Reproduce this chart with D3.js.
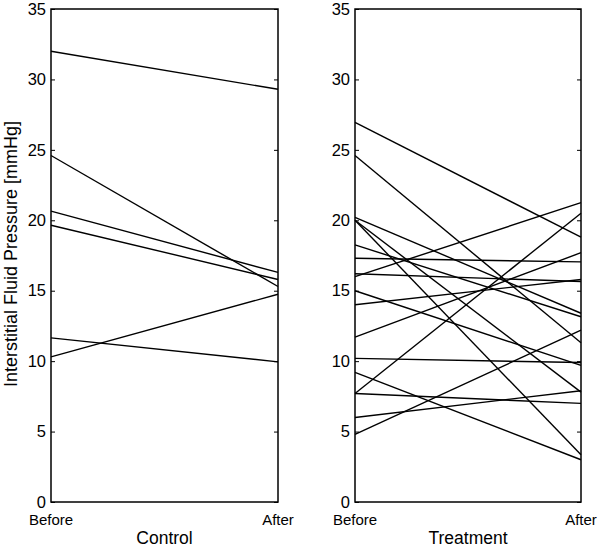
<!DOCTYPE html>
<html>
<head>
<meta charset="UTF-8">
<title>Interstitial Fluid Pressure</title>
<script src="https://d3js.org/d3.v7.min.js"></script>
<style>
  body { margin: 0; background: #fff; }
  svg { font-family: "Liberation Sans", Arial, sans-serif; }
</style>
</head>
<body>
<div id="chart"></div>
<script>
// data
const groups = ["Control", "Treatment"];
const xLabels = ["Before", "After"];
const yTicks = [0, 5, 10, 15, 20, 25, 30, 35];
const yLabel = "Interstitial Fluid Pressure [mmHg]";

const controlBefore = [32.0, 24.6, 20.65, 19.65, 11.65, 10.3];
const controlAfter  = [29.3, 15.3, 16.3, 15.8, 9.95, 14.75];

const treatmentBefore = [26.95, 24.6, 20.2, 20.0, 20.0, 18.25, 17.3, 16.2, 16.0, 15.0, 14.0, 11.7, 10.2, 9.2, 7.7, 7.7, 6.0, 4.8];
const treatmentAfter  = [18.8, 11.3, 13.4, 3.35, 7.8, 13.15, 17.05, 15.65, 21.25, 9.7, 15.8, 17.7, 9.9, 3.0, 7.0, 20.5, 7.9, 12.2];

const W = 600, H = 549;
const svg = d3.select("#chart").append("svg")
    .attr("width", W)
    .attr("height", H);

const y = d3.scaleLinear().domain([0, 35]).range([502, 9]);

// one panel per group
const panels = [
    { name: groups[0], x0: 51, x1: 278, before: controlBefore, after: controlAfter },
    { name: groups[1], x0: 355, x1: 581, before: treatmentBefore, after: treatmentAfter }
];

panels.forEach(p => {
    const x = d3.scalePoint().domain(xLabels).range([p.x0, p.x1]);
    const g = svg.append("g");

    // lines before -> after
    const pairs = p.before.map((b, i) => [b, p.after[i]]);
    g.selectAll(".pair")
        .data(pairs)
        .enter()
        .append("line")
        .attr("class", "pair")
        .attr("x1", x(xLabels[0]))
        .attr("x2", x(xLabels[1]))
        .attr("y1", d => y(d[0]))
        .attr("y2", d => y(d[1]))
        .attr("stroke", "#000")
        .attr("stroke-width", 1.4);

    // left axis, ticks inward
    const left = g.append("g")
        .attr("transform", `translate(${p.x0},0)`)
        .call(d3.axisLeft(y).tickValues(yTicks).tickSize(-4).tickPadding(5));
    left.select(".domain").remove();
    left.selectAll("text").attr("font-size", 16.5).attr("fill", "#000")
        .attr("font-family", "Liberation Sans, Arial, sans-serif");

    // right side inward ticks
    const right = g.append("g")
        .attr("transform", `translate(${p.x1},0)`)
        .call(d3.axisRight(y).tickValues(yTicks).tickSize(-4).tickFormat(""));
    right.select(".domain").remove();

    // frame
    g.append("rect")
        .attr("x", p.x0)
        .attr("y", y(35))
        .attr("width", p.x1 - p.x0)
        .attr("height", y(0) - y(35))
        .attr("fill", "none")
        .attr("stroke", "#000")
        .attr("stroke-width", 1.5);

    // Before / After labels
    g.selectAll(".xl")
        .data(xLabels)
        .enter()
        .append("text")
        .attr("x", d => x(d))
        .attr("y", 525)
        .attr("text-anchor", "middle")
        .attr("font-size", 15)
        .text(d => d);

    // group name
    g.append("text")
        .attr("x", (p.x0 + p.x1) / 2)
        .attr("y", 544)
        .attr("text-anchor", "middle")
        .attr("font-size", 17.5)
        .text(p.name);
});

// y axis title
svg.append("text")
    .attr("transform", `translate(17,254) rotate(-90)`)
    .attr("text-anchor", "middle")
    .attr("font-size", 18)
    .text(yLabel);
</script>
</body>
</html>
